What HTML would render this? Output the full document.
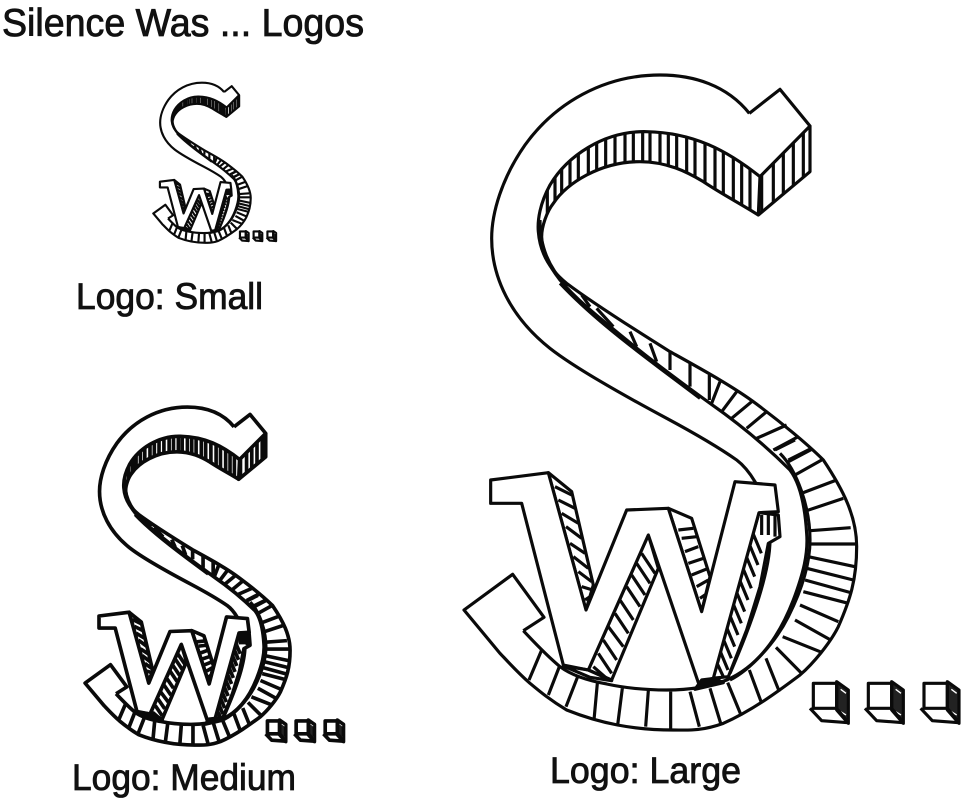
<!DOCTYPE html>
<html><head><meta charset="utf-8"><title>Silence Was ... Logos</title>
<style>html,body{margin:0;padding:0;background:#fff;width:962px;height:800px;overflow:hidden}svg{display:block}text{font-family:"Liberation Sans",sans-serif;fill:#111;stroke:#111;stroke-width:.85px}</style>
</head><body>
<svg xmlns="http://www.w3.org/2000/svg" width="962" height="800" viewBox="0 0 962 800">
<defs>
<clipPath id="b1"><path d="M900,350 C800,270 700,218 560,215 C430,212 320,290 270,375 C240,430 232,480 235,515 L245,530 C245,500 260,455 280,430 C320,370 420,305 540,305 C620,305 680,335 730,365 C790,405 840,430 895,465 L1050,335 V198 Z"/></clipPath>
<g id="cube">
<path d="M1130,725 L1165,750 V850 L1130,810 Z" fill="#222"/>
<path d="M1142,748 L1158,760 M1142,815 L1158,825" stroke="#fff" stroke-width="4" fill="none"/>
<path d="M1060,730 H1130 V805 H1060 Z M1050,805 L1085,842 L1165,848 M1130,805 L1165,848"/>
</g>
<g id="logo" fill="none" stroke="#0a0a0a" stroke-linejoin="round" stroke-linecap="butt">
<path d="M868,160 C800,75 700,45 600,45 C430,45 285,130 195,255 C125,355 95,460 95,535 C95,650 150,770 270,865 C340,920 480,1000 620,1075 C700,1118 780,1165 830,1200 C850,1215 870,1240 885,1265 C915,1320 930,1380 930,1440 C930,1530 880,1680 810,1840"/>
<path d="M868,160 L960,88 L1050,198 L900,350 L895,465 L1050,335 V198"/>
<path d="M900,350 C800,270 700,218 560,215 C430,212 320,290 270,375 C240,430 232,480 235,515 C240,580 270,630 320,670 C400,730 510,800 630,875 C720,925 830,985 900,1040 C960,1085 1040,1150 1090,1200 C1150,1290 1190,1370 1190,1460 C1190,1560 1170,1620 1135,1700 C1110,1750 1060,1810 1020,1845 C960,1890 880,1950 790,1990 C720,2015 680,2010 640,2010 C520,2010 420,1990 320,1950 C270,1920 240,1895 210,1870 C170,1835 130,1790 120,1780 L12,1650 L158,1543 L252,1672 L190,1712"/>
<path d="M190,1712 C230,1755 270,1795 300,1820 C340,1850 400,1865 440,1872 C500,1885 560,1890 620,1890 C690,1890 750,1880 800,1860 C880,1825 950,1750 1000,1620 C1030,1540 1045,1480 1040,1420 C1035,1340 1020,1270 990,1230 C930,1170 850,1100 750,1030 C660,965 560,890 500,840 C420,775 350,720 300,660 C265,615 245,575 245,530 C245,500 260,455 280,430 C320,370 420,305 540,305 C620,305 680,335 730,365 C790,405 840,430 895,465"/>
<path d="M960,1180 C1010,1230 1050,1340 1050,1440 C1050,1530 1010,1620 985,1670 C945,1750 870,1830 810,1860"/>
<path d="M300,670 C380,755 480,835 600,925 C640,955 680,985 720,1015"/>
<path d="M240,480 C240,560 265,620 320,680"/>
<path clip-path="url(#b1)" d="M262,300V560 M285,300V560 M305,280V500 M330,270V500 M355,250V450 M385,240V450 M410,220V450 M437,200V450 M465,200V450 M495,200V450 M520,200V450 M548,200V450 M570,200V450 M600,200V450 M625,200V450 M650,200V450 M680,200V450 M705,200V450 M735,200V450 M765,200V450 M790,200V450 M820,200V450 M845,200V480 M870,200V480 M905,200V480 M940,200V480 M970,200V480 M1000,200V480 M1030,200V480"/>
<path d="M365,705L390,740 M410,745L460,800 M510,815L530,860 M570,850L590,905 M630,875V930 M690,910V980 M748,945V1020 M780,965L755,1030 M830,995L785,1055 M875,1025L815,1075 M920,1055L860,1105 M980,1095L890,1135 M1015,1130L940,1170 M1055,1165L985,1200"/>
<g transform="translate(0,1140)">
<path d="M245,630L207,720 M298,680L265,765 M353,710L318,800 M412,730L402,840 M487,745L473,855 M565,752L557,860 M632,755V870 M690,755L718,860 M750,745L782,850 M803,728L843,825 M868,690L905,790 M918,655L958,755 M948,622L1025,700 M968,590L1085,637 M1005,540L1112,600 M1020,495L1135,545 M1030,455L1165,490 M1035,420L1172,458 M1040,385L1180,420 M1045,350L1185,380 M1048,312H1188 M1050,272L1172,263 M1040,212L1150,175 M1030,158L1125,122 M1005,105L1085,60 M980,68L1055,28 M945,30L1005,0"/>
<path fill="#fff" d="M897,218 L955,225 L960,290 L925,310 L900,440 L860,570 L805,710 L755,715 Z"/>
<path d="M879,280L904,340 M869,315L894,375 M859,350L884,410 M849,385L874,445 M839,420L864,480 M829,455L854,515 M819,490L844,550 M809,525L834,585 M799,560L824,620 M789,595L814,655 M779,630L804,690 M769,665L790,710 M905,225V285 M925,225V285 M945,225V290"/>
<path fill="#fff" d="M265,98 L335,155 L400,435 L378,510 Z"/>
<path d="M285,140L335,165 M295,180L345,205 M305,220L355,250 M318,260L365,295 M330,310L375,340 M340,350L385,385 M355,395L395,425 M365,440L398,450 M375,480L390,470"/>
<path fill="#fff" d="M565,285 L595,385 L455,720 L385,690 Z"/>
<path d="M545,340L585,400 M530,370L570,430 M515,405L555,465 M500,440L540,500 M480,480L520,540 M465,520L505,580 M445,560L490,620 M430,600L470,660 M415,640L455,700 M400,680L440,715"/>
<path fill="#fff" d="M625,205 L695,235 L750,410 L725,515 Z"/>
<path d="M655,270L700,265 M665,295L710,290 M675,335L715,320 M685,370L730,355 M695,405L745,385 M710,440L745,420 M720,475L742,460"/>
<path fill="#fff" d="M92,120 L265,98 L378,510 L500,210 L625,205 L725,515 L825,125 L945,135 L955,215 L897,218 L760,715 L715,728 L565,285 L385,690 L310,675 L185,190 L92,190 Z"/>
<path d="M310,678 L385,690 L455,722 L390,712 Z"/>
<path fill="#0a0a0a" d="M705,748 L790,728 L765,715 L725,720 Z"/>
<use href="#cube"/>
<use href="#cube" transform="translate(165,0)"/>
<use href="#cube" transform="translate(332,0)"/>
</g>
</g>
</defs>
<rect width="962" height="800" fill="#fff"/>
<g transform="translate(460,60) scale(.33333)" stroke-width="9.5"><use href="#logo"/></g>
<g transform="translate(83,399.3) scale(.174,.172)" stroke-width="21"><use href="#logo"/></g>
<g transform="translate(152.3,79) scale(.0827,.0815)" stroke-width="26"><use href="#logo"/></g>
<text x="2" y="36" font-size="39" textLength="362" lengthAdjust="spacingAndGlyphs">Silence Was ... Logos</text>
<text x="76" y="309" font-size="37" textLength="187" lengthAdjust="spacingAndGlyphs">Logo: Small</text>
<text x="72" y="790" font-size="37" textLength="224" lengthAdjust="spacingAndGlyphs">Logo: Medium</text>
<text x="550" y="783" font-size="37" textLength="191" lengthAdjust="spacingAndGlyphs">Logo: Large</text>
</svg>
</body></html>
